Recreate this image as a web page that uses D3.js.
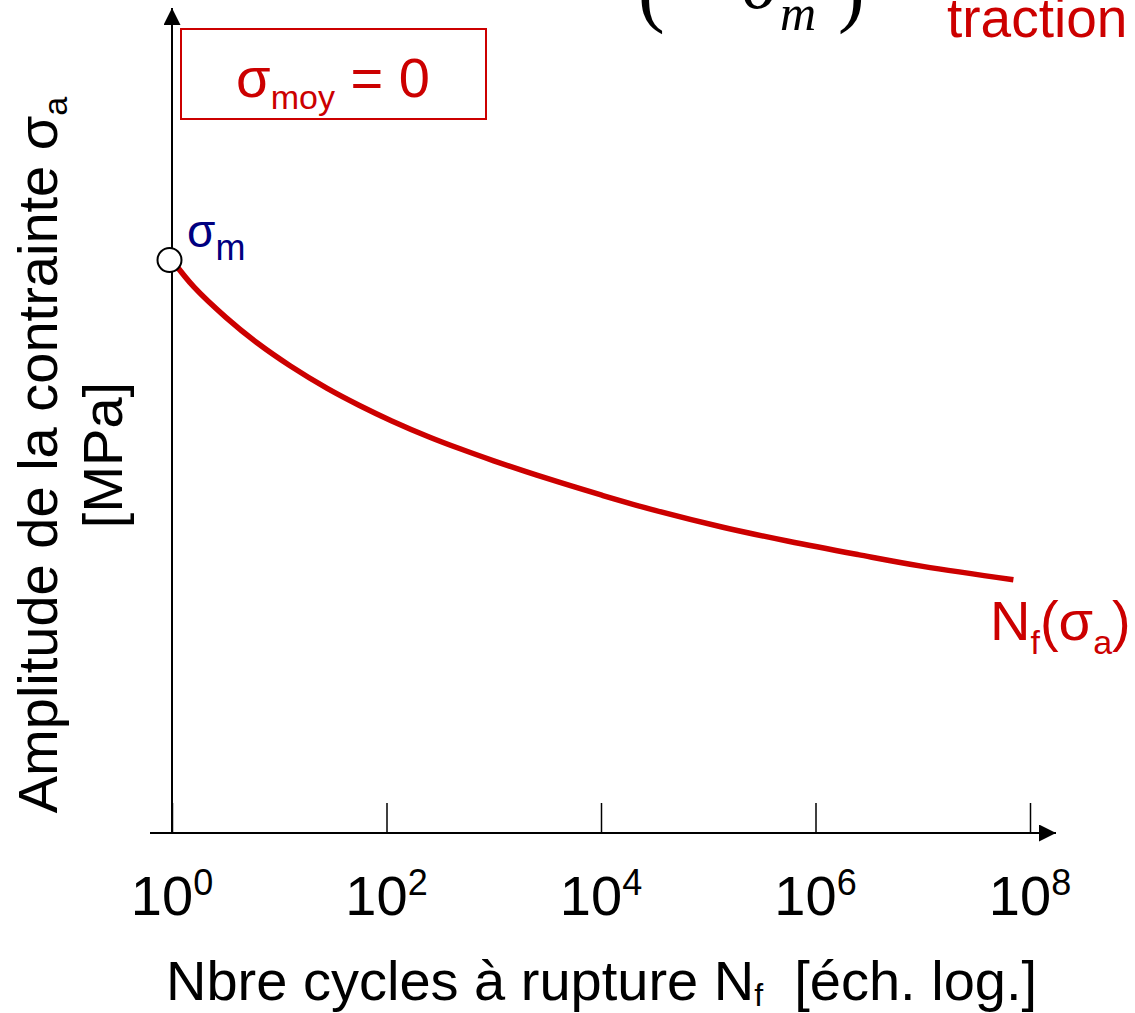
<!DOCTYPE html>
<html>
<head>
<meta charset="utf-8">
<script src="https://cdn.jsdelivr.net/npm/d3@7"></script>
<style>
  body { margin: 0; background: #fff; }
  svg { display: block; font-family: "Liberation Sans", Arial, sans-serif; }
  text { white-space: pre; }
</style>
</head>
<body>
<div id="chart"></div>
<script>
// number of cycles to failure and stress amplitude
const cycles = [1, 1.6, 3.2, 6.3, 12.6, 28, 56, 112, 250, 500, 1e3, 2e3, 4e3, 1e4, 3.2e4, 1.4e5, 5.6e5, 2.5e6, 1e7, 7e7];
const amplitude = [278.5, 265.4, 250.5, 238.0, 227.1, 216.1, 207.8, 200.3, 192.5, 186.5, 180.9, 175.6, 170.6, 164.3, 156.8, 148.5, 141.8, 135.3, 129.6, 123.1];
const tickValues = [1, 1e2, 1e4, 1e6, 1e8];
const tickExponents = ["0", "2", "4", "6", "8"];
const sigmaM = 278.5;

const red = "#cc0000";
const navy = "#000080";

const width = 1135, height = 1013;

const svg = d3.select("#chart").append("svg")
    .attr("width", width)
    .attr("height", height);

// arrow heads
const defs = svg.append("defs");
defs.append("marker")
    .attr("id", "arrow")
    .attr("viewBox", "0 0 10 10")
    .attr("refX", 10).attr("refY", 5)
    .attr("markerWidth", 9).attr("markerHeight", 8.5)
    .attr("markerUnits", "strokeWidth")
    .attr("orient", "auto")
    .append("path")
    .attr("d", "M0,0 L10,5 L0,10 Z")
    .attr("fill", "#000");

// scales
const x = d3.scaleLog().domain([1, 1e8]).range([172, 1030]);
const y = d3.scaleLinear().domain([0, 400]).range([833, 10]);

// x axis line with arrow
svg.append("line")
    .attr("x1", 150).attr("x2", 1056)
    .attr("y1", y(0)).attr("y2", y(0))
    .attr("stroke", "#000").attr("stroke-width", 2)
    .attr("marker-end", "url(#arrow)");

// y axis line with arrow
svg.append("line")
    .attr("x1", x(1)).attr("x2", x(1))
    .attr("y1", y(0)).attr("y2", 8)
    .attr("stroke", "#000").attr("stroke-width", 2)
    .attr("marker-end", "url(#arrow)");

// ticks (pointing up)
const xAxis = svg.append("g")
    .attr("transform", "translate(0," + y(0) + ")")
    .call(d3.axisBottom(x).tickValues(tickValues).tickSizeInner(-30).tickSizeOuter(0).tickFormat(""));
xAxis.select(".domain").remove();
xAxis.selectAll(".tick line").attr("stroke", "#000").attr("stroke-width", 1.5);

// tick labels 10^n
const tickLabels = svg.selectAll(".tickLabel")
    .data(tickValues)
    .enter()
    .append("text")
    .attr("class", "tickLabel")
    .attr("x", d => x(d))
    .attr("y", 915)
    .attr("text-anchor", "middle")
    .style("font-size", "56px")
    .attr("fill", "#000");
tickLabels.append("tspan").text("10");
tickLabels.append("tspan")
    .attr("dy", -20)
    .style("font-size", "36px")
    .text((d, i) => tickExponents[i]);

// x axis title
const xTitle = svg.append("text")
    .attr("x", 166).attr("y", 1000)
    .style("font-size", "56px")
    .attr("fill", "#000");
xTitle.append("tspan").text("Nbre cycles à rupture N");
xTitle.append("tspan").attr("dy", 6).style("font-size", "32px").text("f");
xTitle.append("tspan").attr("dy", -6).text("  [éch. log.]");

// y axis title (two lines, rotated)
const yTitle = svg.append("g")
    .attr("transform", "translate(57,455) rotate(-90)");
const yLine1 = yTitle.append("text")
    .attr("x", 0).attr("y", 0)
    .attr("text-anchor", "middle")
    .style("font-size", "56px")
    .attr("fill", "#000");
yLine1.append("tspan").text("Amplitude de la contrainte σ");
yLine1.append("tspan").attr("dy", 10).style("font-size", "34px").text("a");
yTitle.append("text")
    .attr("x", 0).attr("y", 65)
    .attr("text-anchor", "middle")
    .style("font-size", "56px")
    .attr("fill", "#000")
    .text("[MPa]");

// S-N curve
const line = d3.line()
    .x((d, i) => x(cycles[i]))
    .y((d) => y(d))
    .curve(d3.curveCatmullRom.alpha(0.5));

svg.append("path")
    .datum(amplitude)
    .attr("d", line)
    .attr("fill", "none")
    .attr("stroke", red)
    .attr("stroke-width", 5.5);

// sigma_m point
svg.append("circle")
    .attr("cx", x(1) - 2.5)
    .attr("cy", y(sigmaM))
    .attr("r", 12)
    .attr("fill", "#fff")
    .attr("stroke", "#000")
    .attr("stroke-width", 2);

const smLabel = svg.append("text")
    .attr("x", 187).attr("y", 247)
    .style("font-size", "46px")
    .attr("fill", navy);
smLabel.append("tspan").text("σ");
smLabel.append("tspan").attr("dy", 13).style("font-size", "36px").text("m");

// curve label N_f(sigma_a)
const nfLabel = svg.append("text")
    .attr("x", 990).attr("y", 640)
    .style("font-size", "56px")
    .attr("fill", red);
nfLabel.append("tspan").text("N");
nfLabel.append("tspan").attr("dy", 14).style("font-size", "34px").text("f");
nfLabel.append("tspan").attr("dy", -14).text("(σ");
nfLabel.append("tspan").attr("dy", 14).style("font-size", "34px").text("a");
nfLabel.append("tspan").attr("dy", -14).text(")");

// legend box sigma_moy = 0
svg.append("rect")
    .attr("x", 181).attr("y", 29)
    .attr("width", 305).attr("height", 90)
    .attr("fill", "none")
    .attr("stroke", red)
    .attr("stroke-width", 2);

const legendText = svg.append("text")
    .attr("x", 333).attr("y", 97)
    .attr("text-anchor", "middle")
    .style("font-size", "56px")
    .attr("fill", red);
legendText.append("tspan").text("σ");
legendText.append("tspan").attr("dy", 12).style("font-size", "34px").text("moy");
legendText.append("tspan").attr("dy", -12).text(" = 0");

// cut-off formula at the top
const serif = "'Liberation Serif', 'Times New Roman', serif";
svg.append("text")
    .attr("x", 638).attr("y", 17)
    .style("font-family", serif)
    .style("font-size", "80px")
    .attr("fill", "#000")
    .text("(");
svg.append("text")
    .attr("x", 742).attr("y", 8)
    .style("font-family", serif)
    .style("font-style", "italic")
    .style("font-size", "72px")
    .attr("fill", "#000")
    .text("σ");
svg.append("text")
    .attr("x", 780).attr("y", 30)
    .style("font-family", serif)
    .style("font-style", "italic")
    .style("font-size", "50px")
    .attr("fill", "#000")
    .text("m");
svg.append("text")
    .attr("x", 838).attr("y", 17)
    .style("font-family", serif)
    .style("font-size", "80px")
    .attr("fill", "#000")
    .text(")");

svg.append("text")
    .attr("x", 947).attr("y", 37)
    .style("font-size", "55px")
    .attr("fill", red)
    .text("traction");
</script>
</body>
</html>
